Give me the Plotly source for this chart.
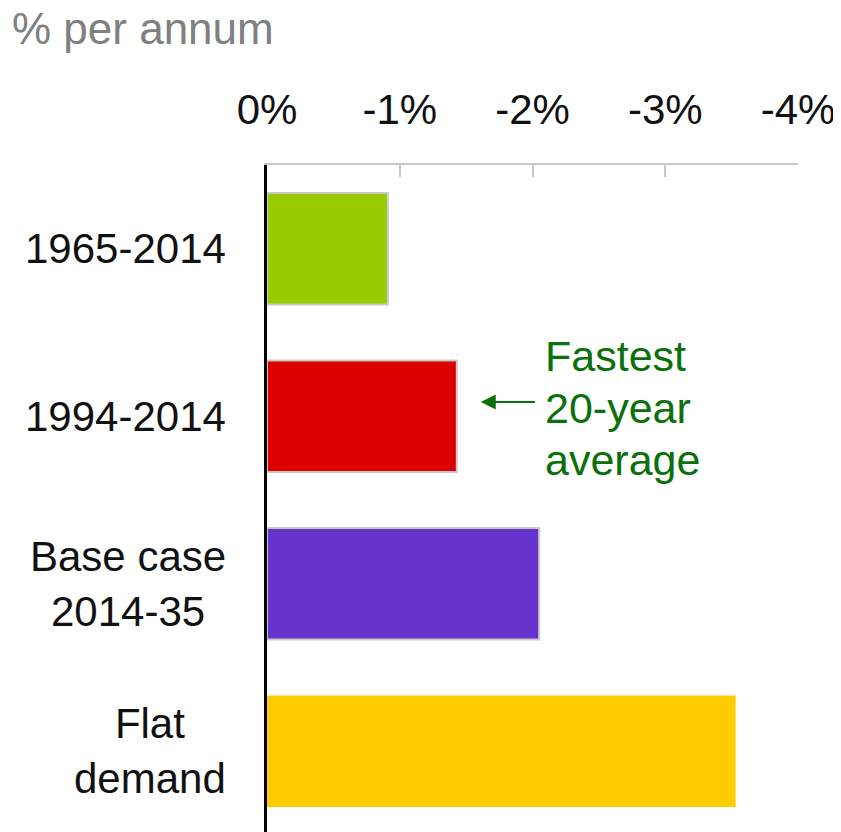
import plotly.graph_objects as go

# --- Data ---
categories = ['1965-2014', '1994-2014', 'Base case<br>2014-35', 'Flat<br>demand']
values = [-0.91, -1.43, -2.05, -3.53]
bar_colors = ['#99cc00', '#dd0000', '#6633cc', '#ffcc00']
tick_vals = [0, -1, -2, -3, -4]
tick_text = ['0%', '-1%', '-2%', '-3%', '-4%']
note_lines = ['Fastest', '20-year', 'average']

FONT = 'Liberation Sans, Arial, sans-serif'
GREEN = '#0a700a'

fig = go.Figure()
fig.add_trace(go.Bar(
    y=list(range(len(categories))), x=values, orientation='h',
    marker=dict(color=bar_colors,
                line=dict(color=['#c8c8c8', '#c8c8c8', '#c8c8c8', 'rgba(0,0,0,0)'],
                          width=[2, 2, 2, 0])),
    width=0.665, showlegend=False, hoverinfo='skip'))

# category labels, centred lines
for i, cat in enumerate(categories):
    fig.add_annotation(x=0, xref='paper', y=i, yref='y', text=cat,
                       showarrow=False, xanchor='right', xshift=-39,
                       align='center', font=dict(family=FONT, size=42, color='#111111'))

# arrow + note (one annotation per line to keep the tighter line spacing)
fig.add_annotation(x=-1.61, y=0.915, ax=-2.03, ay=0.915, axref='x', ayref='y',
                   xref='x', yref='y', text='', showarrow=True,
                   arrowhead=2, arrowsize=1.5, arrowwidth=2, arrowcolor=GREEN)
for line, shift in zip(note_lines, [60, 8, -44]):
    fig.add_annotation(x=-2.08, y=1, xref='x', yref='y', yshift=shift,
                       text=line, showarrow=False, xanchor='left', yanchor='middle',
                       font=dict(family=FONT, size=43, color=GREEN))

# page has an 8px body margin, so everything is offset to compensate
fig.update_layout(
    width=841, height=832,
    margin=dict(l=259, r=51, t=157, b=5),
    paper_bgcolor='white', plot_bgcolor='white',
    title=dict(text='% per annum', x=4 / 841, xanchor='left', xref='container',
               y=1 - 21 / 832, yanchor='middle',
               font=dict(family=FONT, size=44, color='#808080')),
)

fig.update_xaxes(side='top', range=[0, -4], tickvals=tick_vals, ticktext=tick_text,
                 showgrid=False, zeroline=False, showline=True,
                 linecolor='#c8c8c8', linewidth=2,
                 ticks='inside', ticklen=12, tickwidth=2, tickcolor='#c8c8c8',
                 ticklabelstandoff=22,
                 tickfont=dict(family=FONT, size=42, color='#111111'))
fig.update_yaxes(range=[3.5, -0.5], showticklabels=False, showgrid=False,
                 zeroline=False, showline=True, linecolor='black', linewidth=2.5,
                 ticks='')

fig.write_html('out.html')
